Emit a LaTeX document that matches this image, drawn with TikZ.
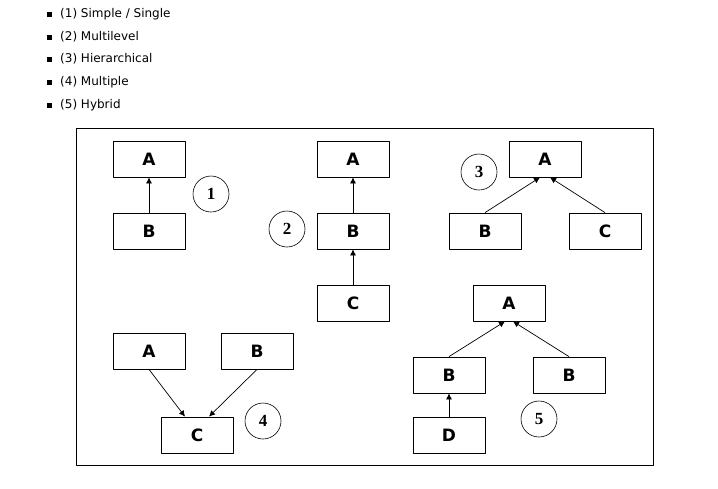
\documentclass[tikz,border=0pt]{standalone}
\usepackage{fontspec}
\setmainfont{DejaVu Sans}
\newfontfamily\numfont{Liberation Serif}
\usetikzlibrary{arrows.meta}
\begin{document}
\begin{tikzpicture}[x=1pt, y=-1pt, line join=round, >={Latex[length=6pt,width=6pt]},
	box/.style={draw, line width=0.8pt, minimum width=72pt, minimum height=36pt, font=\fontsize{17}{19}\selectfont\bfseries},
	num/.style={draw, circle, line width=0.6pt, minimum size=36pt, inner sep=0pt, font=\numfont\fontsize{17}{19}\selectfont\bfseries},
	item/.style={anchor=west, inner sep=0pt, font=\fontsize{12}{14}\selectfont}]
	\useasboundingbox (0,0) rectangle (718,488);
	% list of kinds
	\foreach \y/\t [count=\i] in {14/{(1) Simple / Single}, 37/{(2) Multilevel}, 59/{(3) Hierarchical}, 82/{(4) Multiple}, 105/{(5) Hybrid}}{
		\node[item] (item\i) at (60,\y) {\t};
		\fill (item\i.west) ++(-13,-2.5) rectangle ++(5,5);
	}
	\draw[line width=0.8pt] (76,128) rectangle (653,465);
	% (1) simple
	\node[box] (a1) at (149,159) {A};
	\node[box] (b1) at (149,231) {B};
	\node[num] (n1) at (211,194) {1};
	\draw[->, line width=0.7pt] (b1) -- (a1);
	% (2) multilevel
	\node[box] (a2) at (353,159) {A};
	\node[box] (b2) at (353,231) {B};
	\node[box] (c2) at (353,303) {C};
	\node[num] (n2) at (287,229) {2};
	\draw[->, line width=0.7pt] (b2) -- (a2);
	\draw[->, line width=0.7pt] (c2) -- (b2);
	% (3) hierarchical
	\node[box] (a3) at (545,159) {A};
	\node[box] (b3) at (485,231) {B};
	\node[box] (c3) at (605,231) {C};
	\node[num] (n3) at (479,172) {3};
	\draw[->, line width=0.7pt] (b3.north) -- ([xshift=-5pt]a3.south);
	\draw[->, line width=0.7pt] (c3.north) -- ([xshift=5pt]a3.south);
	% (4) multiple
	\node[box] (a4) at (149,351) {A};
	\node[box] (b4) at (257,351) {B};
	\node[box] (c4) at (197,435) {C};
	\node[num] (n4) at (263,421) {4};
	\draw[->, line width=0.7pt] (a4.south) -- ([xshift=-12pt]c4.north);
	\draw[->, line width=0.7pt] (b4.south) -- ([xshift=12pt]c4.north);
	% (5) hybrid
	\node[box] (a5) at (509,303) {A};
	\node[box] (b5) at (449,375) {B};
	\node[box] (e5) at (569,375) {B};
	\node[box] (d5) at (449,435) {D};
	\node[num] (n5) at (539,419) {5};
	\draw[->, line width=0.7pt] (b5.north) -- ([xshift=-4pt]a5.south);
	\draw[->, line width=0.7pt] (e5.north) -- ([xshift=4pt]a5.south);
	\draw[->, line width=0.7pt] (d5) -- (b5);
\end{tikzpicture}
\end{document}
